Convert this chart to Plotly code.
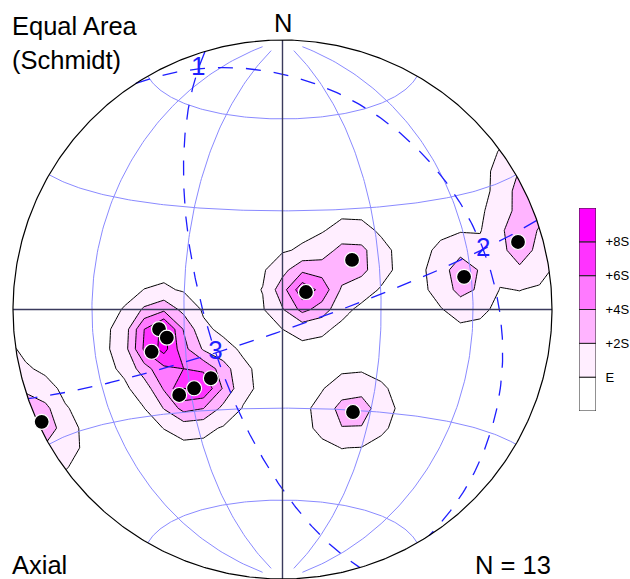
import numpy as np
import plotly.graph_objects as go

# Axial line data: trend / plunge in degrees (lower hemisphere)
trend = [54.5, 53.3, 53.3, 74.0, 79.8, 145.5, 245.0, 261.0, 256.3, 252.1, 226.2, 228.3, 230.4]
plunge = [64.1, 81.2, 81.2, 10.0, 32.1, 51.9, 1.6, 51.7, 53.6, 47.7, 59.8, 53.8, 48.8]

# Contour levels in standard deviations above the expected density
level_vals = [0, 2, 4, 6, 8]
level_text = ["E", "+2S", "+4S", "+6S", "+8S"]
band_colors = ["#ffffff", "#ffeeff", "#ffb4ff", "#ff7aff", "#ff33ff", "#ff00ff"]
eigen_labels = ["1", "2", "3"]

net_step = 30      # net spacing, degrees
kernel_k = 105.0   # exponential counting kernel concentration
grid_nodes = 31    # counting grid nodes across the net

FONT = "Arial, Liberation Sans, sans-serif"
BLUE = "rgb(30,30,255)"
GRID = "#8a8aff"

W, H = 630, 579
s = 269.5
cx, cy = 282.5, 309.5
xr = [-1.03, 1.03]
yr = [-1.0, 1.03]
left = cx + xr[0] * s
top = cy - yr[1] * s
pw = (xr[1] - xr[0]) * s
ph = (yr[1] - yr[0]) * s
xdom = [left / W, (left + pw) / W]
ydom = [(H - top - ph) / H, (H - top) / H]


def to_vec(t, p):
    t, p = np.radians(np.asarray(t, float)), np.radians(np.asarray(p, float))
    return np.stack([np.cos(p) * np.sin(t), np.cos(p) * np.cos(t), np.sin(p)], axis=-1)


def project(v):
    """Lambert equal-area, lower hemisphere; v = (east, north, down)."""
    v = np.asarray(v, float)
    v = np.where(v[..., 2:3] < 0, -v, v)
    f = 1.0 / np.sqrt(1.0 + v[..., 2])
    return v[..., 0] * f, v[..., 1] * f


def net_vec(lat, lon):
    lat, lon = np.radians(lat), np.radians(lon)
    return np.stack([np.cos(lat) * np.sin(lon), np.sin(lat), np.cos(lat) * np.cos(lon)], axis=-1)


def great_circle(pole, npts=241):
    pole = pole / np.linalg.norm(pole)
    h = np.cross(pole, [0.0, 0.0, 1.0])
    if np.linalg.norm(h) < 1e-9:
        h = np.array([1.0, 0.0, 0.0])
    h /= np.linalg.norm(h)
    d = np.cross(pole, h)
    if d[2] < 0:
        d = -d
    a = np.linspace(0, np.pi, npts)
    return project(np.outer(np.cos(a), h) + np.outer(np.sin(a), d))


V = to_vec(trend, plunge)
n = len(trend)

# density grid over the projection (axial: |cos|)
g = np.linspace(-1.1, 1.1, grid_nodes)
GX, GY = np.meshgrid(g, g)
r2 = np.minimum(GX ** 2 + GY ** 2, 2.0)
fct = np.sqrt(2.0 - r2)
U = np.stack([GX * fct, GY * fct, 1.0 - r2], axis=-1)
U /= np.linalg.norm(U, axis=-1, keepdims=True)
dens = np.exp(kernel_k * (np.abs(U @ V.T) - 1.0)).sum(-1)
mu = (1 - np.exp(-kernel_k)) / kernel_k
var = (1 - np.exp(-2 * kernel_k)) / (2 * kernel_k) - mu ** 2
E = n * mu
S = np.sqrt(n * var)
Z = (dens - E) / S

# orientation tensor eigenvectors (ascending eigenvalue)
T = V.T @ V / n
evals, evecs = np.linalg.eigh(T)

fig = go.Figure()

fig.add_trace(go.Contour(
    x=g, y=g, z=Z, autocontour=False, showscale=False,
    contours=dict(start=level_vals[0], end=level_vals[-1], size=level_vals[1] - level_vals[0],
                  coloring="fill", showlines=True),
    line=dict(color="black", width=1, smoothing=0),
    colorscale=[[i / (len(band_colors) - 1), c] for i, c in enumerate(band_colors)],
    hoverinfo="skip", xaxis="x", yaxis="y",
))

# Schmidt net: meridians and small circles
for lon in range(-90 + net_step, 90, net_step):
    if lon == 0:
        continue
    lat = np.linspace(-85, 85, 171)
    x, y = project(net_vec(lat, np.full_like(lat, lon)))
    fig.add_trace(go.Scatter(x=x, y=y, mode="lines", line=dict(color=GRID, width=1),
                             hoverinfo="skip", xaxis="x2", yaxis="y2"))
for la in range(-90 + net_step, 90, net_step):
    if la == 0:
        continue
    lon = np.linspace(-90, 90, 181)
    x, y = project(net_vec(np.full_like(lon, la), lon))
    fig.add_trace(go.Scatter(x=x, y=y, mode="lines", line=dict(color=GRID, width=1),
                             hoverinfo="skip", xaxis="x2", yaxis="y2"))

# principal planes (normal to each eigenvector)
for i in range(3):
    x, y = great_circle(evecs[:, i])
    fig.add_trace(go.Scatter(x=x, y=y, mode="lines",
                             line=dict(color=BLUE, width=1.3, dash="15px,13px"),
                             hoverinfo="skip", xaxis="x2", yaxis="y2"))

# N-S and E-W diameters
fig.add_trace(go.Scatter(x=[0, 0, None, -1, 1], y=[-1, 1, None, 0, 0], mode="lines",
                         line=dict(color="#3a3a5c", width=1.4), hoverinfo="skip",
                         xaxis="x2", yaxis="y2"))

# primitive circle
ang = np.linspace(0, 2 * np.pi, 721)
fig.add_trace(go.Scatter(x=np.cos(ang), y=np.sin(ang), mode="lines",
                         line=dict(color="black", width=1.2), hoverinfo="skip",
                         xaxis="x2", yaxis="y2"))

# data points
px, py = project(V)
fig.add_trace(go.Scatter(x=px, y=py, mode="markers",
                         marker=dict(size=15, color="black", line=dict(color="white", width=1.2)),
                         hoverinfo="skip", xaxis="x2", yaxis="y2", cliponaxis=False))

# eigenvector labels
ex, ey = project(evecs.T)
fig.add_trace(go.Scatter(x=ex, y=ey, mode="text", text=eigen_labels,
                         textfont=dict(size=26, color=BLUE, family=FONT),
                         textposition="middle center", hoverinfo="skip",
                         xaxis="x2", yaxis="y2"))

# level key: one swatch per contour band
nb = len(band_colors)
fig.add_trace(go.Bar(x=[0] * nb, y=[1] * nb, base=list(range(nb)), width=1,
                     marker=dict(color=band_colors, line=dict(color="#222222", width=1)),
                     cliponaxis=False, hoverinfo="skip", xaxis="x3", yaxis="y3"))

# white mask outside the primitive (sits between the contour layer and the net)
circ = " L ".join(f"{np.cos(a):.5f},{np.sin(a):.5f}" for a in ang[:-1])
mask_path = f"M -1.6,-1.6 L 1.6,-1.6 L 1.6,1.6 L -1.6,1.6 Z M {circ} Z"

ann = []
for txt, x, y, xa in [("Equal Area", 11, 25.5, "left"), ("(Schmidt)", 11, 60.5, "left"),
                      ("N", 282.5, 23.5, "center"), ("Axial", 11, 565, "left"),
                      ("N = 13", 552, 565, "right")]:
    ann.append(dict(text=txt, x=x / W, y=(H - y) / H, xref="paper", yref="paper",
                    xanchor=xa, yanchor="middle", showarrow=False, borderpad=0,
                    font=dict(size=25.5, color="black", family=FONT)))

ax = dict(visible=False, showgrid=False, zeroline=False, fixedrange=True)
fig.update_layout(
    width=W, height=H,
    margin=dict(l=0, r=0, t=0, b=0, autoexpand=False),
    paper_bgcolor="white", plot_bgcolor="rgba(0,0,0,0)",
    showlegend=False,
    xaxis=dict(ax, range=xr, domain=xdom, anchor="y"),
    yaxis=dict(ax, range=yr, domain=ydom, anchor="x"),
    xaxis2=dict(ax, range=xr, domain=xdom, anchor="y2"),
    yaxis2=dict(ax, range=yr, domain=ydom, anchor="x2"),
    xaxis3=dict(ax, range=[-0.5, 0.5], domain=[579 / W, 596 / W], anchor="y3"),
    yaxis3=dict(range=[0, nb], domain=[(H - 411) / H, (H - 208) / H], anchor="x3",
                side="right", showgrid=False, zeroline=False, showline=False, fixedrange=True,
                tickmode="array", tickvals=[i + 1 for i in range(len(level_text))],
                ticktext=level_text, ticks="outside", ticklen=6,
                tickcolor="rgba(0,0,0,0)", tickfont=dict(size=13, color="black", family=FONT)),
    shapes=[dict(type="path", path=mask_path, xref="x2", yref="y2", layer="below",
                 fillcolor="white", line=dict(width=0), fillrule="evenodd")],
    annotations=ann,
)

fig.write_html("out.html")
